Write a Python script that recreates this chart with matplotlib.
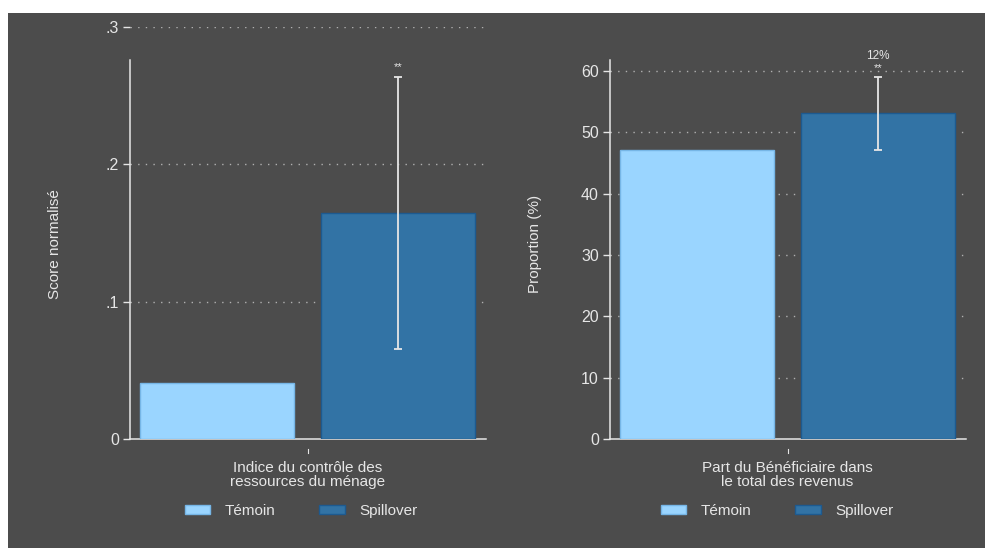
import matplotlib
matplotlib.use("Agg")
import matplotlib.pyplot as plt
from matplotlib.patches import Rectangle

plt.rcParams['font.family'] = ['Liberation Sans', 'DejaVu Sans']

# Data
groups = ["Témoin", "Spillover"]
panel_titles = ["Indice du contrôle des\nressources du ménage",
                "Part du Bénéficiaire dans\nle total des revenus"]
ylabels = ["Score normalisé", "Proportion (%)"]

control_means = [0.0408, 47.2]
spill_means = [0.1645, 53.1]
spill_ci_low = [0.0655, 47.2]
spill_ci_high = [0.2635, 58.95]
stars = ["**", "**"]
effect_labels = [None, "12%"]

yticks = [[0, 0.1, 0.2, 0.3], [0, 10, 20, 30, 40, 50, 60]]
yticklabels = [["0", ".1", ".2", ".3"], ["0", "10", "20", "30", "40", "50", "60"]]
ylims = [(0, 0.3), (0, 61.8)]
spine_top = [0.276, 61.8]

BG = "#4c4c4c"
FG = "#e6e6e6"
GRID = "#b0b0b0"
C_CTRL, E_CTRL = "#9ad5ff", "#76b6e6"
C_SPILL, E_SPILL = "#3273a5", "#1d5a90"

W, H = 985, 548
fig = plt.figure(figsize=(W / 100, H / 100), dpi=100, facecolor="white")
fig.patches.append(Rectangle((8 / W, 0), 1 - 8 / W, (H - 13) / H,
                             transform=fig.transFigure, facecolor=BG,
                             edgecolor="none", zorder=-10))

# axes rectangles in pixels: left, top, right, bottom
boxes = [(130, 27, 486, 439), (610, 60, 966, 439)]
legend_cx = [301, 777]

for i, (l, t, r, b) in enumerate(boxes):
    ax = fig.add_axes([l / W, 1 - b / H, (r - l) / W, (b - t) / H])
    ax.set_facecolor("none")
    ax.set_xlim(-0.481, 1.486)
    ax.set_ylim(*ylims[i])

    h1 = ax.bar(0, control_means[i], width=0.851, color=C_CTRL,
                edgecolor=E_CTRL, linewidth=1, label=groups[0], zorder=3)
    h2 = ax.bar(1, spill_means[i], width=0.851, color=C_SPILL,
                edgecolor=E_SPILL, linewidth=1, label=groups[1], zorder=3)
    err = [[spill_means[i] - spill_ci_low[i]], [spill_ci_high[i] - spill_means[i]]]
    ax.errorbar(1, spill_means[i], yerr=err, fmt="none", ecolor=FG,
                elinewidth=1.3, capsize=2.9, capthick=1.3, zorder=4)
    ax.annotate(stars[i], (1, spill_ci_high[i]), xytext=(0, 3.5),
                textcoords="offset points", ha="center", va="bottom",
                fontsize=8, color=FG, annotation_clip=False)
    if effect_labels[i]:
        ax.annotate(effect_labels[i], (1, spill_ci_high[i]), xytext=(0, 11),
                    textcoords="offset points", ha="center", va="bottom",
                    fontsize=8.5, color=FG, annotation_clip=False)

    # y axis
    ax.set_yticks(yticks[i])
    ax.set_yticklabels(yticklabels[i])
    ax.tick_params(axis="y", colors=FG, labelcolor=FG, length=5, width=1,
                   pad=3, labelsize=11.5)
    for v in yticks[i][1:]:
        ax.axhline(v, color=GRID, lw=1.0, ls=(0, (1, 4.5)), zorder=1)
    for s in ["top", "right"]:
        ax.spines[s].set_visible(False)
    ax.spines["left"].set_color(FG)
    ax.spines["left"].set_bounds(0, spine_top[i])
    ax.spines["bottom"].set_color(FG)
    ax.spines["left"].set_linewidth(1.1)
    ax.spines["bottom"].set_linewidth(1.1)

    # x axis: single category tick, detached below the axis line
    ax.set_xticks([])
    hpx = b - t
    ax.plot([0.5, 0.5], [-10 / hpx, -14 / hpx], transform=ax.get_xaxis_transform(),
            color=FG, lw=0.8, clip_on=False)
    ax.text(0.5, -36 / hpx, panel_titles[i], transform=ax.get_xaxis_transform(),
            ha="center", va="center", fontsize=11, color=FG, linespacing=1.05)

    # y label
    fig.text((l - 75) / W, 1 - 244 / H, ylabels[i], rotation=90, ha="center",
             va="center", fontsize=11, color=FG)

    leg = fig.legend(handles=[h1, h2], loc="center",
                     bbox_to_anchor=(legend_cx[i] / W, 1 - 511 / H),
                     ncol=2, frameon=False, fontsize=11, labelcolor=FG,
                     handlelength=1.65, handleheight=0.6, handletextpad=0.95,
                     columnspacing=2.9)

fig.savefig("out.png", dpi=100, facecolor="white")
